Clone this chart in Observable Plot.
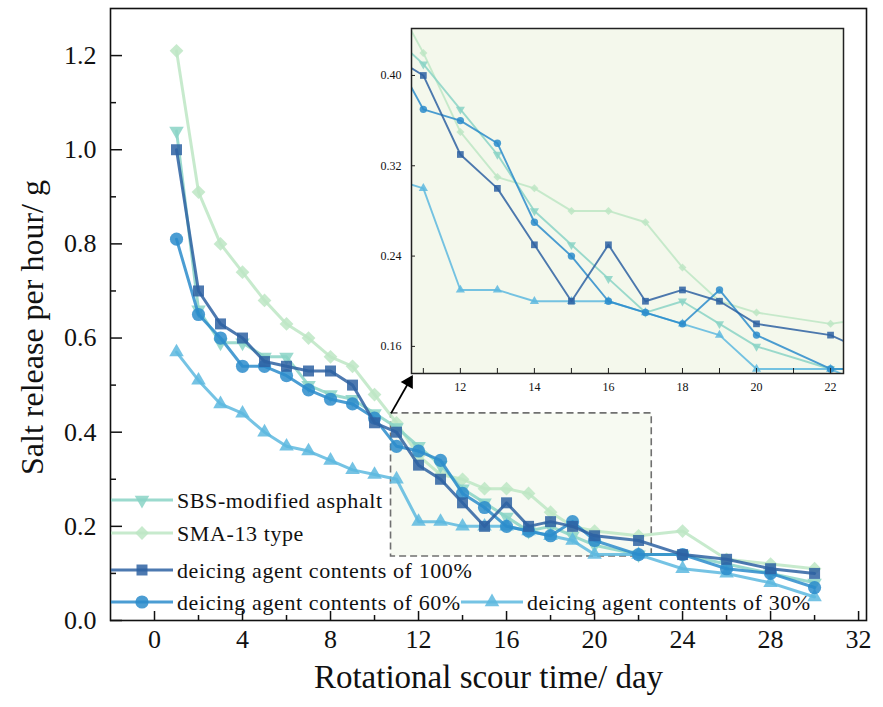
<!DOCTYPE html>
<html><head><meta charset="utf-8">
<script src="https://cdn.jsdelivr.net/npm/d3@7"></script>
<script src="https://cdn.jsdelivr.net/npm/@observablehq/plot@0.6"></script>
<style>
body{margin:0;background:#fff;}
#wrap{position:relative;width:883px;height:707px;font-family:"Liberation Serif",serif;overflow:hidden;}
#wrap > svg{position:absolute;overflow:visible;}
</style></head><body><div id="wrap"></div>
<script>
// ---- data ----
const days = [1,2,3,4,5,6,7,8,9,10,11,12,13,14,15,16,17,18,19,20,22,24,26,28,30];
const sbsModified = [1.04,0.66,0.59,0.59,0.56,0.56,0.50,0.48,0.47,0.44,0.41,0.37,0.33,0.28,0.25,0.22,0.19,0.20,0.18,0.16,0.14,0.14,0.12,0.10,0.08];
const sma13 = [1.21,0.91,0.80,0.74,0.68,0.63,0.60,0.56,0.54,0.48,0.42,0.35,0.31,0.30,0.28,0.28,0.27,0.23,0.20,0.19,0.18,0.19,0.13,0.12,0.11];
const deicing100 = [1.00,0.70,0.63,0.60,0.55,0.54,0.53,0.53,0.50,0.42,0.40,0.33,0.30,0.25,0.20,0.25,0.20,0.21,0.20,0.18,0.17,0.14,0.13,0.11,0.10];
const deicing60 = [0.81,0.65,0.60,0.54,0.54,0.52,0.49,0.47,0.46,0.43,0.37,0.36,0.34,0.27,0.24,0.20,0.19,0.18,0.21,0.17,0.14,0.14,0.11,0.10,0.07];
const deicing30 = [0.57,0.51,0.46,0.44,0.40,0.37,0.36,0.34,0.32,0.31,0.30,0.21,0.21,0.20,0.20,0.20,0.19,0.18,0.17,0.14,0.14,0.11,0.10,0.08,0.05];
const seriesNames = ["SBS-modified asphalt","SMA-13 type","deicing agent contents of 100%","deicing agent contents of 60%","deicing agent contents of 30%"];
const xTickLabels = [0,4,8,12,16,20,24,28,32];
const xMinorTicks = [2,6,10,14,18,22,26,30];
const yTickLabels = [0,0.2,0.4,0.6,0.8,1.0,1.2];
const yMinorTicks = [0.1,0.3,0.5,0.7,0.9,1.1];
const insetXTicks = [12,14,16,18,20,22];
const insetXMinor = [11,13,15,17,19,21];
const insetYTicks = [0.16,0.24,0.32,0.40];
const xTitle = "Rotational scour time/ day";
const yTitle = "Salt release per hour/ g";
const zoomBoxX = [10.75, 22.6];
const zoomBoxY = [0.136, 0.44];
const insetDomainX = [10.68, 22.35];
const insetDomainY = [0.136, 0.4416];

// ---- styling ----
const styles = [
  {color:"#8ad3c6", symbol:"triangle", rotate:180, r:5.4, ri:3.4},
  {color:"#bde6c4", symbol:"diamond2", rotate:0, r:6.2, ri:3.6},
  {color:"#2e61a2", symbol:"square", rotate:0, r:6.2, ri:3.8},
  {color:"#2b8ccb", symbol:"circle", rotate:0, r:6.6, ri:3.7},
  {color:"#5db9df", symbol:"triangle", rotate:0, r:5.4, ri:3.4}
];
const valuesList = [sbsModified, sma13, deicing100, deicing60, deicing30];
const series = seriesNames.map((name,i)=>({name, ...styles[i],
  rows: days.map((d,j)=>({day:d, value:valuesList[i][j]}))}));
const drawOrder = [1,0,4,3,2];

const W = 883, H = 707;
const mL = 110, mR = 17, mT = 8, mB = 87;
const FONT = "Liberation Serif, serif";

const xS = Plot.scale({x:{domain:[-2,32.36], range:[mL, W-mR]}});
const yS = Plot.scale({y:{domain:[0,1.3], range:[H-mB, mT]}});

// inset placement (pixels)
const inL = 411, inR = 843, inT = 28, inB = 373;
const arrowStart = {x: zoomBoxX[0], y: zoomBoxY[1]};
const arrowEnd = {x: xS.invert(inL+0.5), y: yS.invert(inB+3)};

const lineMarks = [], dotMarks = [];
for (const i of drawOrder) {
  const s = series[i];
  lineMarks.push(Plot.line(s.rows, {x:"day", y:"value", stroke:s.color, strokeWidth:3, strokeOpacity:0.85}));
  dotMarks.push(Plot.dot(s.rows, {x:"day", y:"value", symbol:s.symbol, r:s.r, rotate:s.rotate, fill:s.color, fillOpacity:0.85, stroke:"none"}));
}
const plotW = W - mL - mR, plotH = H - mT - mB;

const main = Plot.plot({
  width: W, height: H,
  marginLeft: mL, marginRight: mR, marginTop: mT, marginBottom: mB,
  x: {domain:[-2,32.36]},
  y: {domain:[0,1.3]},
  style: {fontFamily: FONT, color:"#111", background:"transparent", overflow:"visible"},
  marks: [
    Plot.rect([{}], {x1:()=>zoomBoxX[0], x2:()=>zoomBoxX[1], y1:()=>zoomBoxY[0], y2:()=>zoomBoxY[1], fill:"#f7faf2", stroke:"#707070", strokeWidth:1.6, strokeDasharray:"7,4"}),
    ...lineMarks.map((l,k)=>[l, dotMarks[k]]).flat(),
    Plot.link([{}], {x1:()=>arrowStart.x, y1:()=>arrowStart.y, x2:()=>arrowEnd.x, y2:()=>arrowEnd.y, stroke:"#000", strokeWidth:1.8}),
    Plot.dot([{}], {x:()=>arrowEnd.x, y:()=>arrowEnd.y, symbol:"triangle", r:5.2, rotate:30, fill:"#000", dx:-3.2, dy:5.6}),
    Plot.axisX({ticks: xTickLabels, tickSize:0, tickPadding:9, fontSize:26, label:null, tickFormat:d3.format("d")}),
    Plot.axisY({ticks: yTickLabels, tickSize:0, tickPadding:14, fontSize:26, label:null, tickFormat:d3.format(".1f")}),
    Plot.tickX(xTickLabels, {x:d=>d, insetTop: plotH-9, stroke:"#111", strokeWidth:1.5}),
    Plot.tickX(xMinorTicks, {x:d=>d, insetTop: plotH-5, stroke:"#111", strokeWidth:1.5}),
    Plot.tickY(yTickLabels, {y:d=>d, insetRight: plotW-12, stroke:"#111", strokeWidth:1.5}),
    Plot.tickY(yMinorTicks, {y:d=>d, insetRight: plotW-6, stroke:"#111", strokeWidth:1.5}),
    Plot.text([xTitle], {frameAnchor:"bottom", textAnchor:"middle", dy:67, fontSize:33, text:d=>d, fill:"#111", style:"letter-spacing:0.9px"}),
    Plot.text([yTitle], {frameAnchor:"left", textAnchor:"middle", dx:-78, dy:13, rotate:-90, fontSize:32, text:d=>d, fill:"#111", style:"letter-spacing:0.3px"}),
    Plot.frame({stroke:"#111", strokeWidth:1.6})
  ]
});
main.style.left = "0px"; main.style.top = "0px";
document.getElementById("wrap").appendChild(main);

// ---- inset ----
const isvgL = 370, isvgT = 18, isvgW = 485, isvgH = 385;
const insetLines = [], insetDots = [];
for (const i of drawOrder) {
  const s = series[i];
  insetLines.push(Plot.line(s.rows, {x:"day", y:"value", stroke:s.color, strokeWidth:1.9, strokeOpacity:0.85, clip:true}));
  insetDots.push(Plot.dot(s.rows, {x:"day", y:"value", symbol:s.symbol, r:s.ri, rotate:s.rotate, fill:s.color, fillOpacity:0.85, stroke:"none", clip:true}));
}
const ipW = inR - inL, ipH = inB - inT;
const inset = Plot.plot({
  width: isvgW, height: isvgH,
  marginLeft: inL - isvgL, marginRight: isvgL + isvgW - inR, marginTop: inT - isvgT, marginBottom: isvgT + isvgH - inB,
  x: {domain: insetDomainX},
  y: {domain: insetDomainY},
  style: {fontFamily: FONT, color:"#111", background:"transparent"},
  marks: [
    Plot.frame({fill:"#f4f8ec"}),
    ...insetLines.map((l,k)=>[l, insetDots[k]]).flat(),
    Plot.axisX({ticks: insetXTicks, tickSize:0, tickPadding:9, fontSize:12, label:null, tickFormat:d3.format("d")}),
    Plot.axisY({ticks: insetYTicks, tickSize:0, tickPadding:10, fontSize:12, label:null, tickFormat:d3.format(".2f")}),
    Plot.tickX(insetXTicks.concat(insetXMinor), {x:d=>d, insetTop: ipH-5, stroke:"#222", strokeWidth:1}),
    Plot.tickY(insetYTicks, {y:d=>d, insetRight: ipW-4, stroke:"#222", strokeWidth:1}),
    Plot.frame({stroke:"#222", strokeWidth:1.5})
  ]
});
inset.style.left = isvgL + "px"; inset.style.top = isvgT + "px";
document.getElementById("wrap").appendChild(inset);

// ---- legend ----
const leg = d3.create("svg").attr("width", W).attr("height", H)
  .style("left","0px").style("top","0px");
const legendRows = [
  {i:0, x0:111, y:500},
  {i:1, x0:111, y:533},
  {i:2, x0:111, y:570},
  {i:3, x0:111, y:602},
  {i:4, x0:461, y:602}
];
const symMap = {triangle:d3.symbolTriangle, diamond2:d3.symbolDiamond2, square:d3.symbolSquare, circle:d3.symbolCircle};
for (const r of legendRows) {
  const s = series[r.i];
  const g = leg.append("g");
  g.append("line").attr("x1", r.x0).attr("x2", r.x0+62).attr("y1", r.y).attr("y2", r.y)
    .attr("stroke", s.color).attr("stroke-width", 3).attr("stroke-opacity", 0.85);
  g.append("path").attr("d", d3.symbol(symMap[s.symbol], Math.PI*s.r*s.r)())
    .attr("transform", `translate(${r.x0+31},${r.y}) rotate(${s.rotate})`)
    .attr("fill", s.color).attr("fill-opacity", 0.85);
  g.append("text").attr("x", r.x0+66).attr("y", r.y).attr("dy","0.35em")
    .attr("font-family", FONT).attr("font-size", 22).attr("letter-spacing","0.6px")
    .attr("fill","#111").text(s.name);
}
document.getElementById("wrap").appendChild(leg.node());
</script>
</body></html>
